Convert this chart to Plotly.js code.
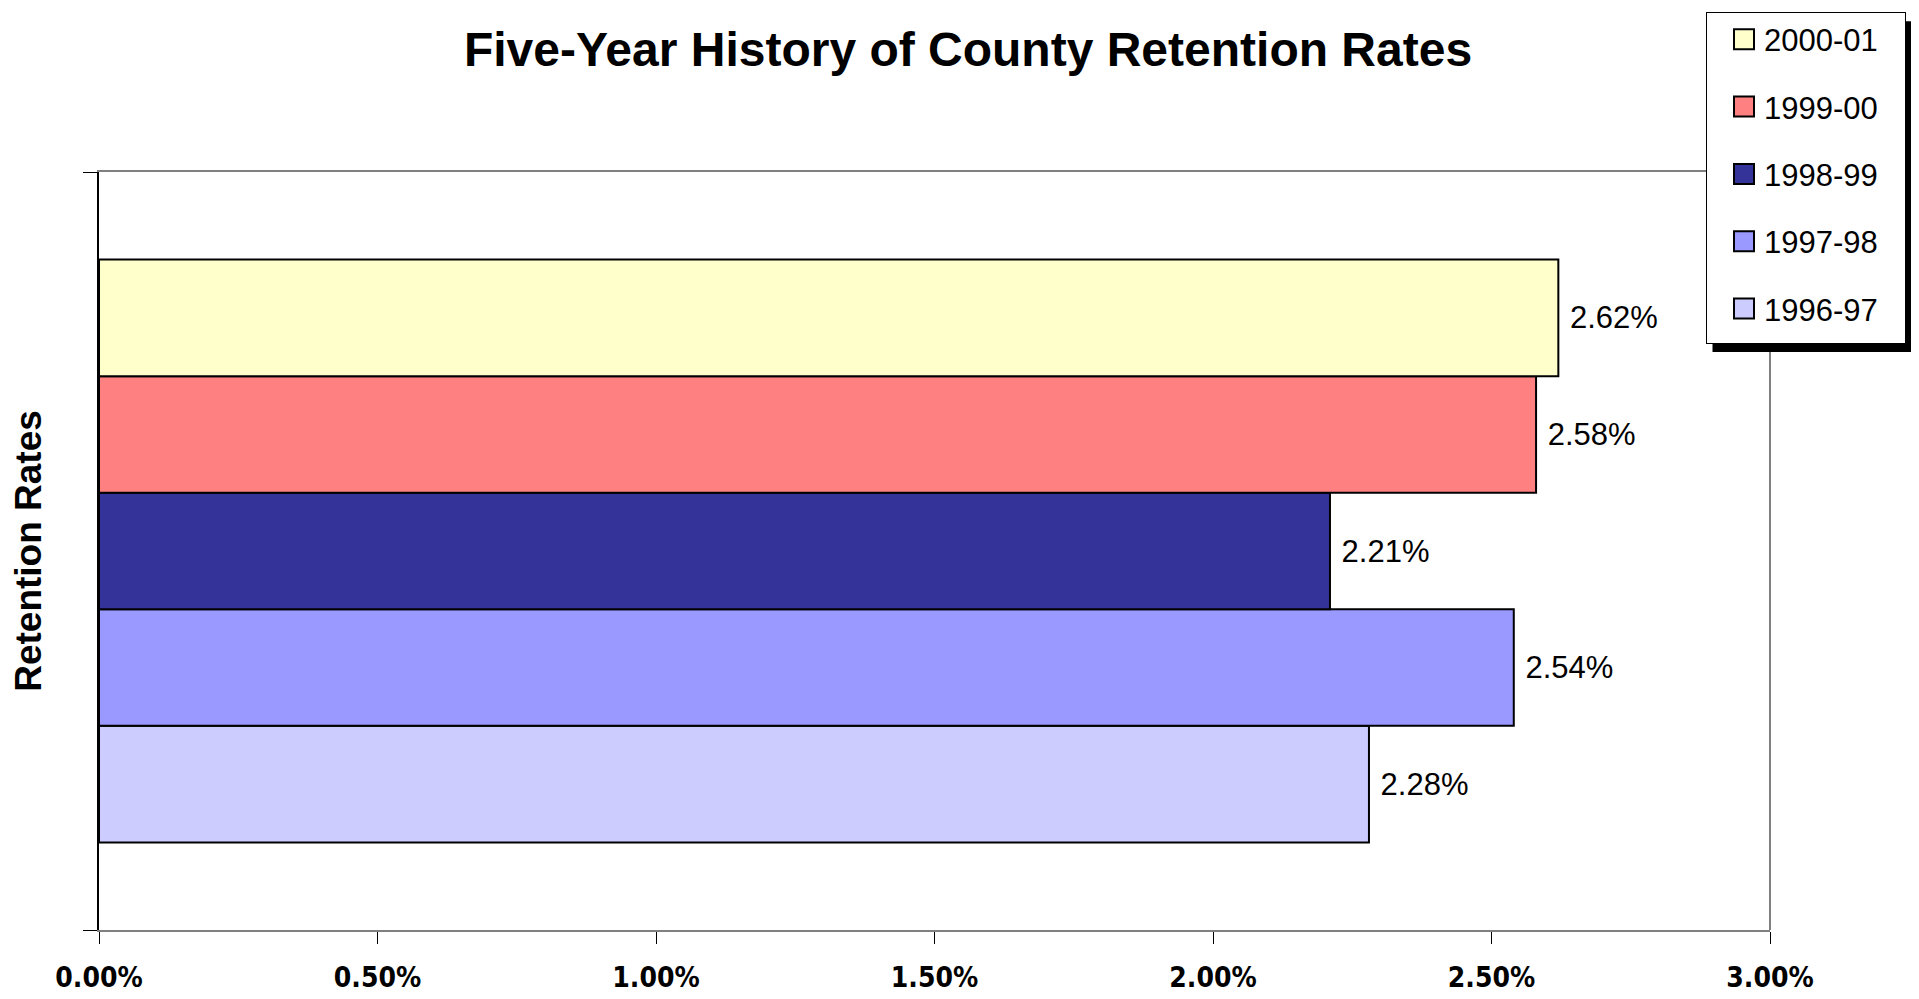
<!DOCTYPE html>
<html>
<head>
<meta charset="utf-8">
<script src="https://cdn.plot.ly/plotly-3.0.1.min.js"></script>
<style>
  html, body { margin: 0; padding: 0; background: #ffffff; }
  #chart { width: 1919px; height: 999px; }
</style>
</head>
<body>
<div id="chart"></div>
<script>
// ---- data (bottom to top) ----
const category = [''];
const seriesNames = ['1996-97', '1997-98', '1998-99', '1999-00', '2000-01'];
const rates = [2.28, 2.54, 2.21, 2.58, 2.62];          // percent
const seriesColors = ['#CCCCFF', '#9999FF', '#333399', '#FF8080', '#FFFFCC'];
const xTickVals = [0, 0.5, 1.0, 1.5, 2.0, 2.5, 3.0];
const xTickText = xTickVals.map(v => v.toFixed(2) + '%');

const chartTitle = 'Five-Year History of County Retention Rates';
const yTitle = 'Retention Rates';

const traces = seriesNames.map((name, i) => ({
  type: 'bar',
  orientation: 'h',
  name: name,
  legendgroup: name,
  legendrank: seriesNames.length - i,
  y: category,
  x: [rates[i]],
  marker: { color: seriesColors[i], line: { color: '#000000', width: 2 } },
  texttemplate: '\u00a0%{x:.2f}%',
  textposition: 'outside',
  cliponaxis: false,
  constraintext: 'none',
  textfont: { family: 'Liberation Sans, Arial, sans-serif', size: 31, color: '#000000' },
  hoverinfo: 'name+x'
}));

const layout = {
  width: 1919,
  height: 999,
  margin: { l: 99, r: 149, t: 169, b: 69 },
  paper_bgcolor: '#ffffff',
  plot_bgcolor: '#ffffff',
  barmode: 'group',
  bargap: 0.231,
  bargroupgap: 0,
  showlegend: true,
  title: {
    text: '<b>' + chartTitle + '</b>',
    font: { family: 'Liberation Sans, Arial, sans-serif', size: 48, color: '#000000' },
    x: 968 / 1919, xref: 'container', xanchor: 'center',
    y: 1 - 49 / 999, yref: 'container', yanchor: 'middle'
  },
  xaxis: {
    range: [0, 3],
    tickmode: 'array',
    tickvals: xTickVals,
    ticktext: xTickText,
    showgrid: false,
    zeroline: false,
    showline: true,
    linecolor: '#808080',
    linewidth: 2,
    mirror: true,
    ticks: 'outside',
    ticklen: 12,
    tickwidth: 1,
    tickcolor: '#000000',
    ticklabelstandoff: 9,
    tickfont: { family: 'Liberation Sans Narrow, Arial Narrow, DejaVu Sans Condensed, sans-serif', size: 28, color: '#000000', weight: 'bold' },
    fixedrange: true
  },
  yaxis: {
    type: 'category',
    range: [-0.5, 0.5],
    showgrid: false,
    zeroline: false,
    showline: true,
    linecolor: '#000000',
    linewidth: 1.5,
    ticks: 'outside',
    tickson: 'boundaries',
    ticklen: 14,
    tickwidth: 1,
    tickcolor: '#000000',
    showticklabels: false,
    title: {
      text: '<b>' + yTitle + '</b>',
      font: { family: 'Liberation Sans, Arial, sans-serif', size: 37, color: '#000000' },
      standoff: 44
    },
    fixedrange: true
  },
  legend: {
    x: (1706 - 99) / 1671, xanchor: 'left',
    y: (930 - 8) / 761, yanchor: 'top',
    bgcolor: '#ffffff',
    bordercolor: '#000000',
    borderwidth: 1,
    traceorder: 'grouped',
    tracegroupgap: 24,
    indentation: 17,
    font: { family: 'Liberation Sans, Arial, sans-serif', size: 31, color: '#000000' }
  },
  shapes: [
    { type: 'line', xref: 'paper', yref: 'paper', x0: 1, x1: 1, y0: 0, y1: 1,
      line: { color: '#808080', width: 2 } }
  ]
};

// legend box target extents in page pixels (from the reference)
const LEG_RIGHT = 1905, LEG_BOTTOM = 343;

function fixLegend(gd) {
  gd.querySelectorAll('.legend .legendpoints path').forEach(p => {
    p.setAttribute('d', 'M10,10H-10V-10H10Z');
    p.style.strokeWidth = '2px';
    p.style.stroke = '#000000';
  });
  const bg = gd.querySelector('.legend .bg');
  if (!bg) return null;
  const c = gd.getBoundingClientRect();
  const r = bg.getBoundingClientRect();
  const w = parseFloat(bg.getAttribute('width'));
  const h = parseFloat(bg.getAttribute('height'));
  const left = r.left - c.left, top = r.top - c.top;
  const curRight = left + r.width, curBottom = top + r.height;
  if (curRight < LEG_RIGHT) bg.setAttribute('width', w + (LEG_RIGHT - curRight));
  if (curBottom < LEG_BOTTOM) bg.setAttribute('height', h + (LEG_BOTTOM - curBottom));
  return bg.getBoundingClientRect();
}

Plotly.newPlot('chart', traces, layout, { displayModeBar: false, responsive: false }).then(gd => {
  const r = fixLegend(gd);
  if (!r) return gd;
  const c = gd.getBoundingClientRect();
  const fl = gd._fullLayout;
  const off = 6;
  const px2x = p => (p - c.left - fl.margin.l) / fl._size.w;
  const px2y = p => 1 - (p - c.top - fl.margin.t) / fl._size.h;
  const shapes = layout.shapes.slice();
  shapes.push({
    type: 'rect', xref: 'paper', yref: 'paper', layer: 'above',
    x0: px2x(r.left + off), x1: px2x(r.right + off),
    y0: px2y(r.bottom + off), y1: px2y(r.top + off),
    fillcolor: '#000000', line: { width: 0 }
  });
  return Plotly.relayout(gd, { shapes: shapes });
}).then(gd => { if (gd) fixLegend(gd); });
</script>
</body>
</html>
